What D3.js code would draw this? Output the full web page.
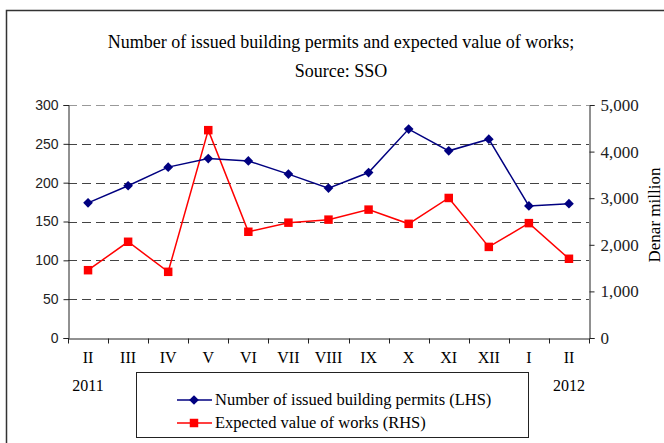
<!DOCTYPE html>
<html>
<head>
<meta charset="utf-8">
<script src="https://cdn.jsdelivr.net/npm/d3@7"></script>
<style>
  body { margin: 0; background: #fff; }
  svg { display: block; }
</style>
</head>
<body>
<svg id="chart" width="664" height="443"></svg>
<script>
// months, Feb 2011 .. Feb 2012
const months = ['II', 'III', 'IV', 'V', 'VI', 'VII', 'VIII', 'IX', 'X', 'XI', 'XII', 'I', 'II']
const years = ['2011', '', '', '', '', '', '', '', '', '', '', '', '2012']
// number of issued building permits (LHS)
const permits = [174, 196, 220, 231, 228, 211, 193, 213, 269, 241, 256, 170, 173]
// expected value of works, denar million (RHS)
const worksValue = [1455, 2065, 1420, 4460, 2280, 2475, 2540, 2755, 2450, 3005, 1955, 2465, 1700]
const leftTicks = [0, 50, 100, 150, 200, 250, 300]
const rightTicks = [0, 1000, 2000, 3000, 4000, 5000]
const seriesNames = ['Number of issued building permits (LHS)', 'Expected value of works (RHS)']

const svg = d3.select('#chart')
const plotL = 68, plotR = 589, plotT = 105, plotB = 338
const serif = '"Liberation Serif", "DejaVu Serif", serif'
const sans = '"Liberation Sans", Arial, sans-serif'

// outer frame
svg.append('rect')
  .attr('x', 6.5).attr('y', 10.5)
  .attr('width', 700).attr('height', 500)
  .attr('fill', 'none')
  .attr('stroke', '#333')
  .attr('stroke-width', 1.5)

// title
svg.append('text')
  .attr('x', 341).attr('y', 48)
  .attr('text-anchor', 'middle')
  .attr('font-family', serif).attr('font-size', 18)
  .text('Number of issued building permits and expected value of works;')
svg.append('text')
  .attr('x', 341).attr('y', 77)
  .attr('text-anchor', 'middle')
  .attr('font-family', serif).attr('font-size', 18)
  .text('Source: SSO')

const idx = months.map((d, i) => i)
const x = d3.scaleBand().domain(idx).range([plotL, plotR])
const yL = d3.scaleLinear().domain([0, 300]).range([plotB, plotT])
const yR = d3.scaleLinear().domain([0, 5000]).range([plotB, plotT])
const cx = i => x(i) + x.bandwidth() / 2

// gridlines
svg.append('g')
  .selectAll('line')
  .data(leftTicks.filter(d => d > 0))
  .join('line')
  .attr('x1', plotL).attr('x2', plotR)
  .attr('y1', d => Math.round(yL(d)) + 0.5)
  .attr('y2', d => Math.round(yL(d)) + 0.5)
  .attr('stroke', d => d === 300 ? '#999' : '#444')
  .attr('stroke-width', 1.2)
  .attr('stroke-dasharray', '9,5')

// left axis
const gL = svg.append('g')
  .attr('transform', `translate(${plotL + 0.5},0)`)
  .call(d3.axisLeft(yL).tickValues(leftTicks).tickSize(5).tickPadding(5).tickFormat(d3.format('d')))
gL.selectAll('text').attr('font-family', sans).attr('font-size', 14).attr('fill', '#222')

// right axis
const gR = svg.append('g')
  .attr('transform', `translate(${plotR + 0.5},0)`)
  .call(d3.axisRight(yR).tickValues(rightTicks).tickSize(5).tickPadding(6).tickFormat(d3.format(',')))
gR.selectAll('text').attr('font-family', serif).attr('font-size', 17).attr('fill', '#222')

svg.selectAll('.domain, .tick line').attr('stroke', '#222')

// x axis
const gX = svg.append('g')
  .attr('transform', `translate(0,${plotB + 0.5})`)
  .call(d3.axisBottom(x).tickSize(0).tickFormat(''))
gX.select('.domain').attr('stroke', '#222')
gX.append('g')
  .selectAll('line')
  .data(d3.range(months.length + 1))
  .join('line')
  .attr('x1', i => Math.round(plotL + i * x.bandwidth()) + 0.5)
  .attr('x2', i => Math.round(plotL + i * x.bandwidth()) + 0.5)
  .attr('y1', 0).attr('y2', 5)
  .attr('stroke', '#222')

svg.append('g')
  .selectAll('text')
  .data(months)
  .join('text')
  .attr('x', (d, i) => cx(i))
  .attr('y', 363)
  .attr('text-anchor', 'middle')
  .attr('font-family', serif).attr('font-size', 16)
  .text(d => d)

svg.append('g')
  .selectAll('text')
  .data(years)
  .join('text')
  .attr('x', (d, i) => cx(i))
  .attr('y', 391)
  .attr('text-anchor', 'middle')
  .attr('font-family', serif).attr('font-size', 16)
  .text(d => d)

// right axis title
svg.append('text')
  .attr('transform', `translate(660,215) rotate(-90)`)
  .attr('text-anchor', 'middle')
  .attr('font-family', serif).attr('font-size', 17)
  .text('Denar million')

// series
const blue = '#000080', red = '#ff0000'
const lineL = d3.line().x((d, i) => cx(i)).y(d => yL(d))
const lineR = d3.line().x((d, i) => cx(i)).y(d => yR(d))

svg.append('path')
  .datum(worksValue)
  .attr('d', lineR)
  .attr('fill', 'none')
  .attr('stroke', red)
  .attr('stroke-width', 1.5)

svg.append('path')
  .datum(permits)
  .attr('d', lineL)
  .attr('fill', 'none')
  .attr('stroke', blue)
  .attr('stroke-width', 1.5)

const diamond = d3.symbol().type(d3.symbolDiamond2).size(60)
const square = d3.symbol().type(d3.symbolSquare).size(72)

svg.append('g')
  .selectAll('path')
  .data(worksValue)
  .join('path')
  .attr('transform', (d, i) => `translate(${cx(i)},${yR(d)})`)
  .attr('d', square)
  .attr('fill', red)

svg.append('g')
  .selectAll('path')
  .data(permits)
  .join('path')
  .attr('transform', (d, i) => `translate(${cx(i)},${yL(d)})`)
  .attr('d', diamond)
  .attr('fill', blue)

// legend
const lg = svg.append('g')
lg.append('rect')
  .attr('x', 136.5).attr('y', 372.5)
  .attr('width', 392).attr('height', 65)
  .attr('fill', '#fff')
  .attr('stroke', '#222')
const colors = [blue, red]
const marks = [diamond, square]
seriesNames.forEach((name, i) => {
  const yy = 400 + i * 23
  lg.append('line')
    .attr('x1', 177).attr('x2', 212)
    .attr('y1', yy).attr('y2', yy)
    .attr('stroke', colors[i]).attr('stroke-width', 1.5)
  lg.append('path')
    .attr('transform', `translate(194,${yy})`)
    .attr('d', marks[i])
    .attr('fill', colors[i])
  lg.append('text')
    .attr('x', 215).attr('y', yy + 5)
    .attr('font-family', serif).attr('font-size', 16.5)
    .text(name)
})
</script>
</body>
</html>
